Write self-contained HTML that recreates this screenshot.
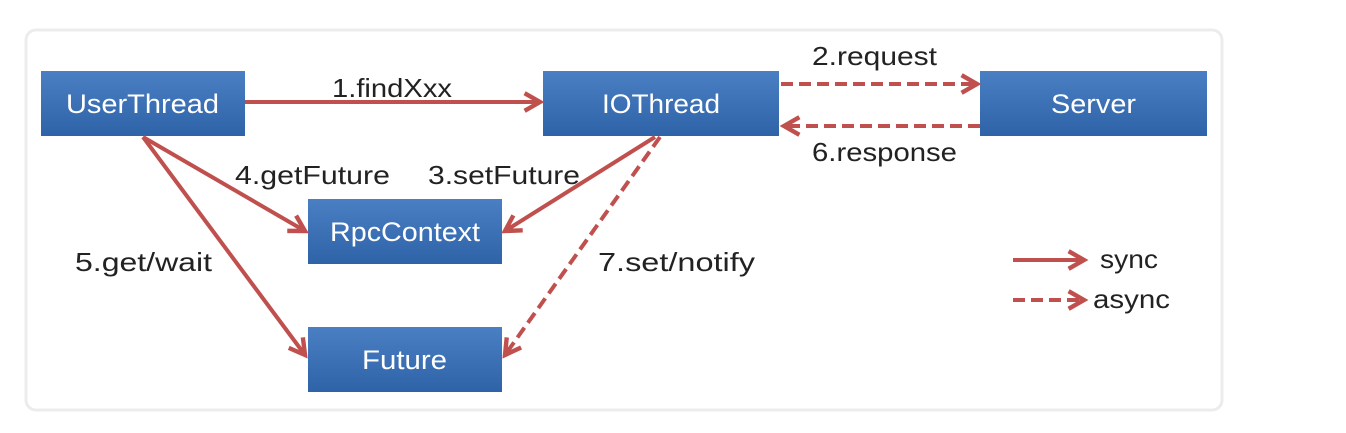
<!DOCTYPE html>
<html><head><style>
body{margin:0;background:#fff;width:1346px;height:428px;overflow:hidden;font-family:"Liberation Sans",sans-serif}
</style></head><body>
<svg width="1346" height="428" xmlns="http://www.w3.org/2000/svg">
<defs>
<linearGradient id="g" x1="0" y1="0" x2="0" y2="1"><stop offset="0" stop-color="#4a7fc4"/><stop offset="1" stop-color="#2f63a8"/></linearGradient>
<marker id="a" viewBox="0 0 10 10" refX="8" refY="5" markerWidth="5.5" markerHeight="5.5" orient="auto"><path d="M1,1 L8,5 L1,9" fill="none" stroke="#c0504d" stroke-width="2"/></marker>
</defs>
<rect x="26" y="30" width="1196" height="380" rx="10" fill="#fff" stroke="#ececec" stroke-width="3"/>
<g fill="url(#g)">
<rect x="41" y="71" width="204" height="65"/>
<rect x="543" y="71" width="236" height="65"/>
<rect x="980" y="71" width="227" height="65"/>
<rect x="308" y="199" width="194" height="65"/>
<rect x="308" y="327" width="194" height="65"/>
</g>
<g fill="#fff" font-size="27" lengthAdjust="spacingAndGlyphs">
<text x="66" y="113" textLength="153" lengthAdjust="spacingAndGlyphs">UserThread</text>
<text x="602" y="113" textLength="118" lengthAdjust="spacingAndGlyphs">IOThread</text>
<text x="1051" y="113" textLength="85" lengthAdjust="spacingAndGlyphs">Server</text>
<text x="330" y="241" textLength="150" lengthAdjust="spacingAndGlyphs">RpcContext</text>
<text x="362" y="369" textLength="85" lengthAdjust="spacingAndGlyphs">Future</text>
</g>
<g stroke="#c0504d" stroke-width="4" fill="none" marker-end="url(#a)">
<line x1="245" y1="102" x2="540" y2="102"/>
<line x1="781" y1="84" x2="977" y2="84" stroke-dasharray="12,6"/>
<line x1="980" y1="126" x2="784" y2="126" stroke-dasharray="12,6"/>
<line x1="143" y1="137" x2="305" y2="231"/>
<line x1="655" y1="137" x2="505" y2="231"/>
<line x1="143" y1="137" x2="305" y2="355"/>
<line x1="660" y1="137" x2="505" y2="355" stroke-dasharray="12,6"/>
<line x1="1013" y1="260" x2="1084" y2="260"/>
<line x1="1013" y1="300" x2="1084" y2="300" stroke-dasharray="12,6"/>
</g>
<g fill="#222" font-size="26">
<text x="332" y="97" textLength="120" lengthAdjust="spacingAndGlyphs">1.findXxx</text>
<text x="812" y="65" textLength="125" lengthAdjust="spacingAndGlyphs">2.request</text>
<text x="812" y="161" textLength="145" lengthAdjust="spacingAndGlyphs">6.response</text>
<text x="235" y="184" textLength="155" lengthAdjust="spacingAndGlyphs">4.getFuture</text>
<text x="428" y="184" textLength="152" lengthAdjust="spacingAndGlyphs">3.setFuture</text>
<text x="75" y="271" textLength="137" lengthAdjust="spacingAndGlyphs">5.get/wait</text>
<text x="598" y="271" textLength="157" lengthAdjust="spacingAndGlyphs">7.set/notify</text>
<text x="1100" y="268" textLength="58" lengthAdjust="spacingAndGlyphs">sync</text>
<text x="1093" y="308" textLength="77" lengthAdjust="spacingAndGlyphs">async</text>
</g>
</svg>
</body></html>
